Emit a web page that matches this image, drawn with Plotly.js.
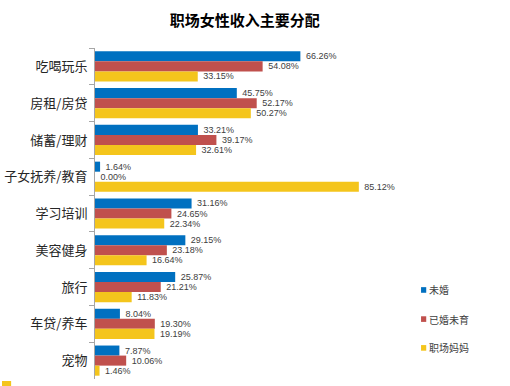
<!DOCTYPE html>
<html><head><meta charset="utf-8">
<script src="https://cdn.plot.ly/plotly-3.0.1.min.js"></script>
<style>html,body{margin:0;padding:0;background:#fff}#c{width:510px;height:386px}</style>
</head><body><div id="c"></div>
<script>
const categories = ["吃喝玩乐","房租/房贷","储蓄/理财","子女抚养/教育","学习培训","美容健身","旅行","车贷/养车","宠物"];
const seriesNames = ["未婚","已婚未育","职场妈妈"];
const unmarried = [66.26,45.75,33.21,1.64,31.16,29.15,25.87,8.04,7.87];
const marriedNoKid = [54.08,52.17,39.17,0.00,24.65,23.18,21.21,19.30,10.06];
const workingMom = [33.15,50.27,32.61,85.12,22.34,16.64,11.83,19.19,1.46];
const colors = ["#0070C0","#C0504D","#F4C51C"];
const font = "Noto Sans CJK SC, Noto Sans, sans-serif";
const numFont = "Liberation Sans, Arial, sans-serif";

const series = [unmarried, marriedNoKid, workingMom];
const traces = series.map((vals,i)=>({
  type:"bar", orientation:"h", y:categories, x:vals, name:seriesNames[i],
  marker:{color:colors[i]},
  text: vals.map(v=>"\u00a0"+v.toFixed(2)+"%"), textposition:"outside", constraintext:"none",
  textfont:{size:9,color:"#404040",family:numFont},
  cliponaxis:false, showlegend:false, hoverinfo:"none"
}));

const shapes = [];
const annotations = [];
const legY = [0.269, 0.181, 0.094];
seriesNames.forEach((n,i)=>{
  shapes.push({type:"rect", xref:"paper", yref:"paper",
    x0:1.069, x1:1.086, y0:legY[i]-0.0085, y1:legY[i]+0.0085,
    fillcolor:colors[i], line:{width:0}});
  annotations.push({xref:"paper", yref:"paper", x:1.09, y:legY[i], xanchor:"left", yanchor:"middle",
    text:n, showarrow:false, font:{size:10,color:"#404040",family:font}});
});
shapes.push({type:"rect", xref:"paper", yref:"paper", x0:-0.305, x1:-0.275, y0:-0.023, y1:-0.006,
  fillcolor:"#F4C51C", line:{width:0}});

Plotly.newPlot("c", traces, {
  width:510, height:386,
  margin:{l:95, r:110, t:48, b:7},
  paper_bgcolor:"#fff", plot_bgcolor:"#fff",
  title:{text:"<b>职场女性收入主要分配</b>", x:0.48, xanchor:"center", y:0.945, yanchor:"middle",
    font:{size:15,color:"#000",family:font}},
  barmode:"group", bargap:0.18, bargroupgap:0,
  xaxis:{range:[0,98.4], visible:false, fixedrange:true},
  yaxis:{autorange:"reversed", type:"category", showline:true, linecolor:"#A6A6A6", linewidth:1,
    ticks:"outside", tickson:"boundaries", ticklen:5, tickcolor:"#A6A6A6", showgrid:false,
    tickfont:{size:13,color:"#262626",family:font}, ticklabelstandoff:4},
  shapes, annotations
}, {displayModeBar:false, staticPlot:true});
</script></body></html>
